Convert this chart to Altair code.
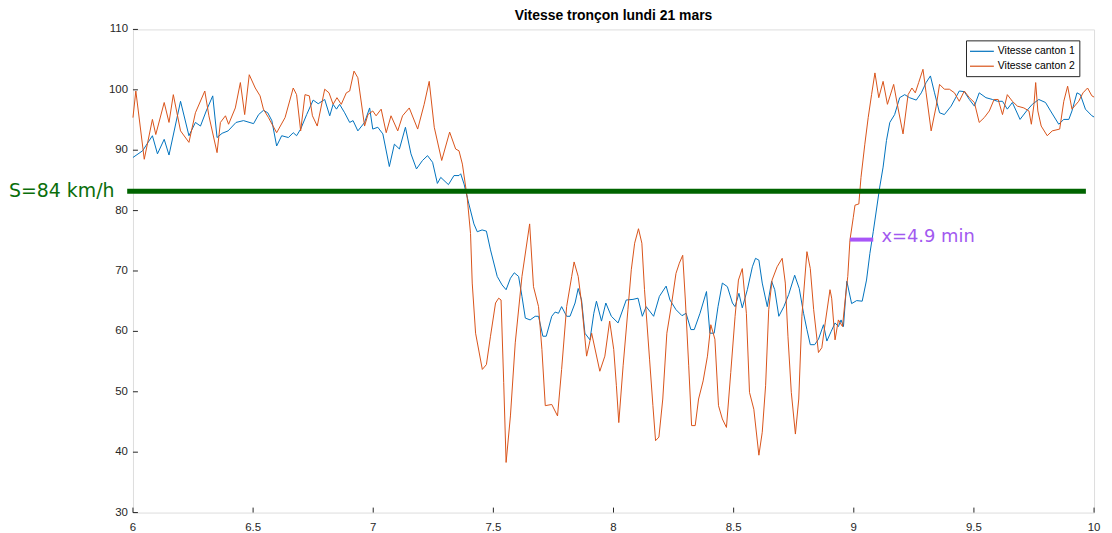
import altair as alt
import pandas as pd

# ---- data (x in hours, y in km/h) ----
c2_x = [6.000, 6.012, 6.047, 6.081, 6.095, 6.130, 6.150, 6.168, 6.198, 6.233, 6.260, 6.299, 6.316, 6.350, 6.364,
        6.385, 6.398, 6.426, 6.447, 6.465, 6.484, 6.509, 6.529, 6.543, 6.564, 6.598, 6.633,
        6.667, 6.681, 6.698, 6.716, 6.734, 6.747, 6.767, 6.798, 6.816, 6.833, 6.849, 6.867, 6.888, 6.902, 6.920,
        6.936, 6.964, 6.978, 6.998, 7.012, 7.033, 7.054, 7.074, 7.102, 7.122, 7.150, 7.185, 7.212, 7.233, 7.254,
        7.285, 7.318, 7.343, 7.357, 7.371,
        7.391, 7.405, 7.412, 7.426, 7.454, 7.471, 7.488, 7.509, 7.522, 7.532, 7.543, 7.553, 7.571, 7.591, 7.619,
        7.651, 7.667, 7.688, 7.702, 7.716, 7.743, 7.767, 7.784, 7.805, 7.826, 7.836, 7.853, 7.867, 7.888, 7.909,
        7.943, 7.964, 7.984, 8.001, 8.012, 8.022, 8.040, 8.060, 8.074, 8.088, 8.104, 8.118, 8.129, 8.150, 8.164,
        8.175, 8.189, 8.205, 8.222, 8.240, 8.260, 8.274, 8.288, 8.299, 8.313, 8.325, 8.340, 8.354, 8.373, 8.391,
        8.405, 8.422, 8.437, 8.453, 8.470, 8.488, 8.506, 8.520, 8.536, 8.553, 8.566, 8.584,
        8.605, 8.619, 8.633, 8.646, 8.660, 8.681, 8.702, 8.715, 8.726, 8.740, 8.757, 8.771, 8.784, 8.805, 8.819,
        8.833, 8.853, 8.867,
        8.881, 8.901, 8.908, 8.922, 8.936, 8.953, 8.964, 8.975, 8.984, 8.998, 9.005, 9.021, 9.030, 9.046, 9.060,
        9.074, 9.088, 9.104, 9.122, 9.140, 9.166, 9.184, 9.205, 9.226, 9.242, 9.256, 9.270, 9.288, 9.301, 9.322,
        9.343, 9.357,
        9.377, 9.398, 9.419, 9.439, 9.460, 9.481, 9.502, 9.522, 9.543, 9.564, 9.584, 9.601, 9.619, 9.639, 9.660,
        9.681, 9.708, 9.729, 9.739, 9.750, 9.757, 9.766, 9.780, 9.805, 9.826, 9.857, 9.874, 9.890, 9.908, 9.936,
        9.954, 9.973, 9.991, 10.000]
c2_y = [95.4, 99.8, 88.5, 95.1, 92.6, 97.9, 94.6, 99.2, 93.2, 91.3, 96.2, 99.8, 95.7, 89.6, 94.6,
        95.7, 94.3, 97.0, 101.2, 95.9, 102.5, 100.3, 99.0, 96.8, 95.4, 92.9, 95.4,
        100.3, 99.2, 93.2, 99.2, 99.0, 95.7, 94.0, 100.1, 99.5, 97.6, 98.7, 97.6, 99.5, 99.8, 103.1,
        102.0, 94.0, 95.9, 96.5, 95.7, 96.8, 92.9, 95.7, 93.2, 95.7, 97.0, 93.5, 97.6, 101.4, 93.8,
        88.3, 93.0, 90.2, 89.9, 87.7,
        82.2, 76.2, 68.0, 59.7, 53.7, 54.5, 59.2, 64.7, 65.5, 65.2, 51.5, 38.3, 46.0, 58.1, 69.1,
        77.8, 67.4, 64.1, 57.0, 47.7, 47.9, 46.0, 53.7, 64.1, 69.1, 71.5, 69.1, 64.7, 55.9, 59.7,
        53.4, 55.9, 61.7, 57.0, 51.0, 44.9, 54.3, 63.6, 70.2, 74.6, 77.0, 74.6, 66.9, 55.4, 47.7,
        41.9, 42.5, 48.8, 59.7, 64.1, 69.6, 71.3, 72.6, 65.2, 54.3, 44.4, 44.4, 48.8, 51.8, 55.9,
        61.1, 58.7, 47.7, 45.5, 44.1, 53.2, 62.5, 68.5, 70.4, 63.0, 49.9, 47.1,
        39.5, 43.3, 51.0, 63.6, 68.5, 70.7, 72.1, 68.0, 59.2, 49.9, 43.0, 48.8, 62.5, 73.2, 70.4,
        63.6, 56.5, 57.3,
        61.4, 66.9, 65.5, 58.6, 61.9, 60.8, 65.2, 69.1, 75.1, 78.9, 80.9, 81.1, 85.5, 91.0, 95.4,
        99.2, 102.8, 98.7, 101.4, 97.6, 100.9, 97.0, 92.7, 99.2, 100.3, 99.5, 101.2, 103.4, 99.5, 93.2,
        97.3, 100.9,
        100.1, 100.1, 99.5, 98.1, 99.8, 98.7, 97.9, 94.6, 95.4, 96.5, 98.4, 98.4, 95.9, 99.2, 98.1,
        97.3, 97.0, 96.5, 94.3, 97.6, 101.2, 96.5, 94.0, 92.4, 93.2, 93.5, 98.1, 100.6, 96.8, 98.1,
        99.5, 100.3, 99.0, 98.8]

c1_x = [6.000, 6.040, 6.081, 6.102, 6.130, 6.150, 6.198, 6.233, 6.260, 6.281, 6.305, 6.332, 6.350, 6.371, 6.396,
        6.429, 6.460, 6.502, 6.523, 6.543, 6.561, 6.578, 6.598, 6.619, 6.647,
        6.667, 6.681, 6.698, 6.723, 6.750, 6.771, 6.798, 6.819, 6.833, 6.847, 6.860, 6.881, 6.902, 6.916, 6.936,
        6.964, 6.985, 6.998, 7.019, 7.040, 7.067, 7.088, 7.109, 7.134, 7.157, 7.180, 7.205, 7.226, 7.247, 7.267,
        7.281, 7.313, 7.336, 7.357,
        7.364, 7.378, 7.398, 7.419, 7.433, 7.453, 7.471, 7.488, 7.516, 7.536, 7.553, 7.571, 7.587, 7.605, 7.619,
        7.633, 7.653, 7.674, 7.688, 7.706, 7.720, 7.743, 7.757, 7.771, 7.784, 7.805, 7.819, 7.840, 7.853, 7.867,
        7.881, 7.902, 7.918,
        7.929, 7.950, 7.968, 7.991, 8.019, 8.053, 8.081, 8.102, 8.120, 8.136, 8.167, 8.191, 8.219, 8.235, 8.260,
        8.285, 8.302, 8.322, 8.336, 8.360, 8.387, 8.401, 8.419, 8.435, 8.453, 8.474, 8.495, 8.506, 8.522, 8.536,
        8.557, 8.578,
        8.591, 8.605, 8.619, 8.640, 8.658, 8.671, 8.688, 8.709, 8.729, 8.754, 8.773, 8.791, 8.805, 8.819, 8.837,
        8.853, 8.874, 8.888, 8.906, 8.922, 8.936, 8.947, 8.957, 8.971, 8.991, 9.012, 9.035, 9.053, 9.067, 9.081,
        9.108, 9.122, 9.136, 9.150, 9.170, 9.191, 9.212, 9.232, 9.260, 9.281, 9.301, 9.319, 9.336, 9.357,
        9.377, 9.405, 9.439, 9.460, 9.481, 9.502, 9.522, 9.550, 9.577, 9.598, 9.619, 9.639, 9.660, 9.692, 9.719,
        9.743, 9.770, 9.798, 9.819, 9.853, 9.874, 9.895, 9.908, 9.929, 9.943, 9.964, 9.991, 10.000]
c1_y = [88.8, 89.9, 92.4, 89.4, 91.8, 89.2, 98.1, 92.4, 94.6, 94.0, 96.5, 99.0, 92.1, 92.8, 93.2,
        94.6, 94.9, 94.4, 95.9, 96.6, 96.2, 94.9, 90.7, 92.4, 92.1,
        92.9, 92.4, 93.5, 95.9, 98.3, 97.7, 98.4, 95.7, 97.6, 96.8, 97.6, 96.2, 94.6, 94.9, 93.2,
        94.6, 97.0, 93.5, 93.8, 92.7, 87.3, 91.0, 90.2, 93.8, 89.4, 86.9, 88.3, 89.1, 88.0, 84.5,
        85.5, 84.3, 85.8, 85.8,
        86.1, 84.4, 81.1, 77.8, 76.5, 76.8, 76.6, 73.5, 69.1, 67.7, 66.9, 68.8, 69.7, 69.1, 65.8,
        62.2, 61.9, 62.5, 62.5, 59.2, 59.2, 62.5, 63.2, 63.0, 64.1, 62.5, 62.5, 64.7, 67.1, 65.2,
        59.7, 58.6, 63.0,
        65.0, 61.7, 64.7, 62.5, 61.4, 65.2, 65.3, 65.5, 62.5, 64.1, 62.5, 65.8, 67.5, 65.2, 63.6,
        62.6, 63.0, 60.3, 60.3, 63.0, 66.6, 59.7, 59.7, 64.1, 68.0, 67.4, 64.7, 64.1, 66.3, 63.9,
        66.9, 70.7,
        72.1, 71.8, 68.0, 64.1, 68.3, 66.9, 62.5, 64.1, 66.1, 69.3, 67.1, 63.0, 60.3, 57.8, 57.8,
        58.7, 61.1, 58.4, 60.0, 61.4, 60.8, 61.9, 60.8, 68.3, 64.6, 65.1, 65.0, 68.5, 72.9, 76.5,
        83.9, 87.2, 91.6, 94.6, 95.9, 98.7, 99.2, 98.7, 98.3, 99.5, 101.2, 102.3, 99.5, 96.2,
        95.9, 97.3, 99.8, 99.7, 98.4, 97.3, 99.5, 98.7, 98.4, 98.1, 98.1, 96.8, 97.9, 95.1, 96.5,
        97.6, 98.4, 97.9, 96.5, 94.3, 95.1, 95.1, 96.5, 99.5, 99.2, 96.8, 95.7, 95.5]

series_names = ["Vitesse canton 1", "Vitesse canton 2"]
series_colors = ["#0072BD", "#D95319"]

x_ticks = [6, 6.5, 7, 7.5, 8, 8.5, 9, 9.5, 10]
x_tick_labels = ["6", "6.5", "7", "7.5", "8", "8.5", "9", "9.5", "10"]
y_ticks = [30, 40, 50, 60, 70, 80, 90, 100, 110]
y_tick_labels = ["30", "40", "50", "60", "70", "80", "90", "100", "110"]

threshold_value = 83.2
threshold_label = "S=84 km/h"
threshold_x = [5.976, 9.966]
threshold_label_x = 5.923

gap_x = [8.984, 9.081]
gap_y = 75.2
gap_label = "x=4.9 min"
gap_label_x = 9.115
gap_label_y = 75.7

title_text = "Vitesse tronçon lundi 21 mars"

# ---- tables ----
df = pd.concat([
    pd.DataFrame({"h": c1_x, "v": c1_y, "serie": series_names[0]}),
    pd.DataFrame({"h": c2_x, "v": c2_y, "serie": series_names[1]}),
], ignore_index=True)
xt_df = pd.DataFrame({"t": x_ticks, "lab": x_tick_labels})
yt_df = pd.DataFrame({"t": y_ticks, "lab": y_tick_labels})

W, H = 966.8, 486
axis_color = "#262626"
font = "Liberation Sans"

xscale = alt.Scale(domain=[6, 10], nice=False, zero=False)
yscale = alt.Scale(domain=[30, 110], nice=False, zero=False)

lines = alt.Chart(df).mark_line(strokeWidth=1).encode(
    x=alt.X("h:Q", scale=xscale, title=None,
            axis=alt.Axis(values=x_ticks, labels=False, ticks=False, grid=False, domainColor=axis_color)),
    y=alt.Y("v:Q", scale=yscale, title=None,
            axis=alt.Axis(values=y_ticks, labels=False, ticks=False, grid=False, domainColor=axis_color)),
    color=alt.Color("serie:N", scale=alt.Scale(domain=series_names, range=series_colors),
                    legend=alt.Legend(title=None, orient="none", legendX=838, legendY=11,
                                      symbolType="M-2,0H2", symbolSize=144, symbolStrokeWidth=1.2,
                                      symbolOffset=5, strokeColor=axis_color, fillColor="white",
                                      padding=4, labelFontSize=10.5, labelFont=font,
                                      labelColor="black", rowPadding=2, labelOffset=9)),
)

# inward ticks (MATLAB style) and tick labels
xt = alt.Chart(xt_df).mark_rule(color=axis_color, strokeWidth=1).encode(
    x=alt.X("t:Q", scale=xscale, axis=None), y=alt.value(H), y2=alt.value(H - 5))
yt = alt.Chart(yt_df).mark_rule(color=axis_color, strokeWidth=1).encode(
    y=alt.Y("t:Q", scale=yscale, axis=None), x=alt.value(0), x2=alt.value(5))
xl = alt.Chart(xt_df).mark_text(align="center", baseline="top", font=font, fontSize=11.5,
                                color=axis_color, dy=10).encode(
    x=alt.X("t:Q", scale=xscale, axis=None), y=alt.value(H), text="lab:N")
yl = alt.Chart(yt_df).mark_text(align="right", baseline="middle", font=font, fontSize=11.5,
                                color=axis_color, dx=-5).encode(
    y=alt.Y("t:Q", scale=yscale, axis=None), x=alt.value(0), text="lab:N")

thr = alt.Chart(pd.DataFrame({"a": [threshold_x[0]], "b": [threshold_x[1]], "v": [threshold_value]})).mark_rule(
    color="#006400", strokeWidth=5).encode(
    x=alt.X("a:Q", scale=xscale, axis=None), x2="b:Q", y=alt.Y("v:Q", scale=yscale, axis=None))
thr_txt = alt.Chart(pd.DataFrame({"a": [threshold_label_x], "v": [threshold_value], "s": [threshold_label]})).mark_text(
    align="right", baseline="middle", font="DejaVu Sans", fontSize=19, color="#0a6e0a").encode(
    x=alt.X("a:Q", scale=xscale, axis=None), y=alt.Y("v:Q", scale=yscale, axis=None), text="s:N")

gap = alt.Chart(pd.DataFrame({"a": [gap_x[0]], "b": [gap_x[1]], "v": [gap_y]})).mark_rule(
    color="#a855f7", strokeWidth=4).encode(
    x=alt.X("a:Q", scale=xscale, axis=None), x2="b:Q", y=alt.Y("v:Q", scale=yscale, axis=None))
gap_txt = alt.Chart(pd.DataFrame({"a": [gap_label_x], "v": [gap_label_y], "s": [gap_label]})).mark_text(
    align="left", baseline="middle", font="DejaVu Sans", fontSize=18, color="#a259f0").encode(
    x=alt.X("a:Q", scale=xscale, axis=None), y=alt.Y("v:Q", scale=yscale, axis=None), text="s:N")

chart = alt.layer(lines, xt, yt, xl, yl, thr, thr_txt, gap, gap_txt).properties(
    width=W, height=H,
    title=alt.TitleParams(title_text, fontSize=14, fontWeight="bold", font=font, color="black",
                          anchor="middle", frame="group", offset=0),
    autosize=alt.AutoSizeParams(type="none"),
    padding={"left": 125.7, "top": 20, "right": 10, "bottom": 19},
).configure_view(strokeWidth=0).configure(background="white")

chart.save("out.html", embed_options={"renderer": "svg", "actions": False})
